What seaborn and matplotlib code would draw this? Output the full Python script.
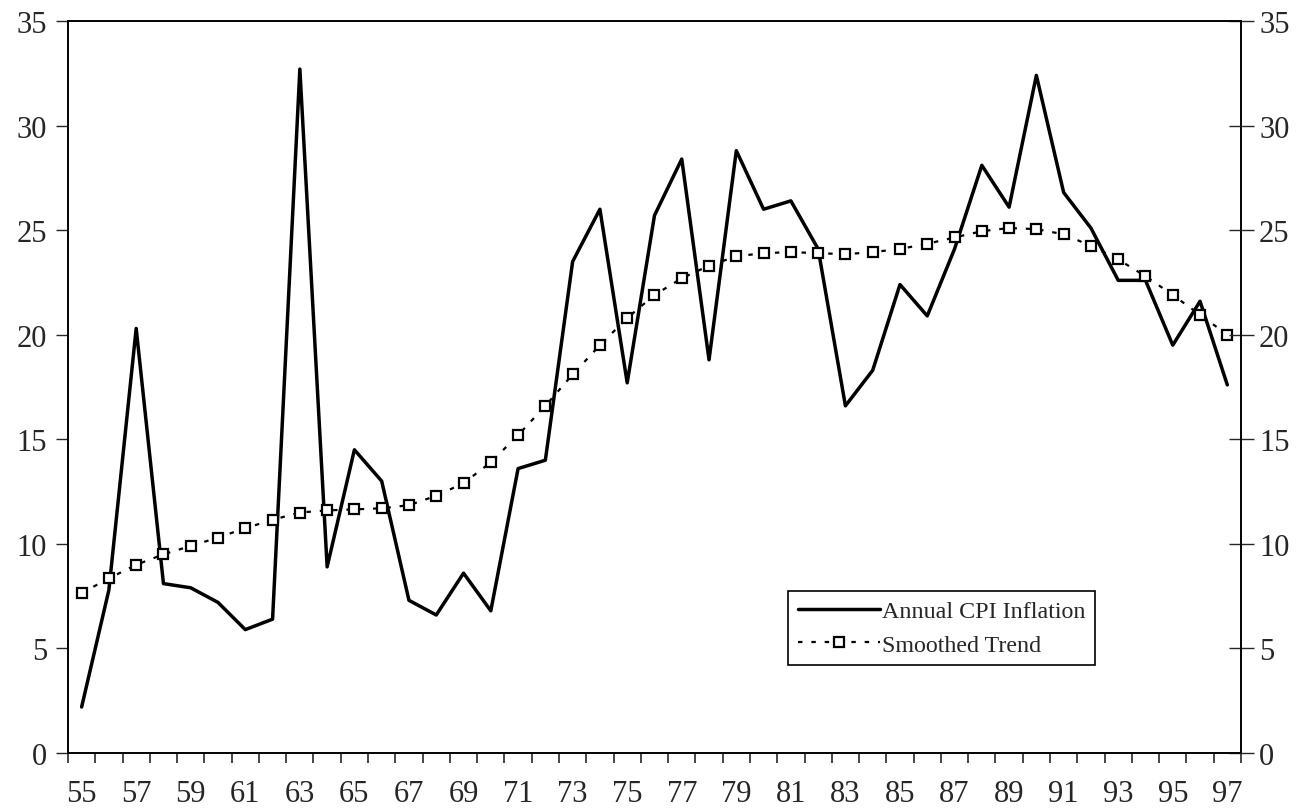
import numpy as np
import pandas as pd
import matplotlib
matplotlib.use('Agg')
import matplotlib.pyplot as plt
import seaborn as sns

# years 1955-1997 (labelled by last two digits)
years = list(range(55, 98))

cpi_inflation = [2.2, 7.8, 20.3, 8.1, 7.9, 7.2, 5.9, 6.4, 32.7, 8.9,
                 14.5, 13.0, 7.3, 6.6, 8.6, 6.8, 13.6, 14.0, 23.5, 26.0,
                 17.7, 25.7, 28.4, 18.8, 28.8, 26.0, 26.4, 24.1, 16.6, 18.3,
                 22.4, 20.9, 24.1, 28.1, 26.1, 32.4, 26.8, 25.1, 22.6, 22.6,
                 19.5, 21.6, 17.6]

smoothed_trend = [7.65, 8.35, 9.0, 9.5, 9.9, 10.3, 10.75, 11.15, 11.5, 11.6,
                  11.65, 11.7, 11.85, 12.3, 12.9, 13.9, 15.2, 16.6, 18.1, 19.5,
                  20.8, 21.9, 22.7, 23.3, 23.75, 23.9, 23.95, 23.9, 23.85, 23.95,
                  24.1, 24.35, 24.65, 24.95, 25.1, 25.05, 24.8, 24.25, 23.6, 22.8,
                  21.9, 20.95, 20.0]

y_ticks = [0, 5, 10, 15, 20, 25, 30, 35]

df = pd.DataFrame({'year': years, 'cpi': cpi_inflation, 'trend': smoothed_trend})

sns.set_style('ticks')
plt.rcParams['font.family'] = ['Liberation Serif', 'DejaVu Serif']

fig = plt.figure(figsize=(13.1, 8.12), dpi=100)
ax = fig.add_axes([0.0519, 0.0714, 0.8954, 0.9015])

sns.lineplot(x='year', y='cpi', data=df, ax=ax, color='black', linewidth=2.5,
             label='Annual CPI Inflation')
sns.lineplot(x='year', y='trend', data=df, ax=ax, color='black', linewidth=1.6,
             linestyle=(0, (2, 4)), marker='s', markersize=7,
             markerfacecolor='white', markeredgecolor='black', markeredgewidth=1.6,
             label='Smoothed Trend')

ax.set_xlim(54.5, 97.5)
ax.set_ylim(0, 35)
ax.set_xlabel('')
ax.set_ylabel('')

# labels at every other year, tick marks between categories
ax.set_xticks(years[::2])
ax.set_xticklabels([str(y) for y in years[::2]], fontsize=22)
ax.set_xticks(np.arange(54.5, 98.0, 1.0), minor=True)
ax.tick_params(axis='x', which='major', length=0, pad=19)
ax.tick_params(axis='x', which='minor', length=7, width=1.2, direction='out')

ax.set_yticks(y_ticks)
ax.set_yticklabels([str(v) for v in y_ticks], fontsize=22)
ax.tick_params(axis='y', length=9, width=1.0, direction='out', pad=6)

ax2 = ax.twinx()
ax2.set_ylim(0, 35)
ax2.set_yticks(y_ticks)
ax2.set_yticklabels([str(v) for v in y_ticks], fontsize=22)
ax2.tick_params(axis='y', length=18, width=1.0, direction='inout', pad=4)

for a in (ax, ax2):
    for s in a.spines.values():
        s.set_linewidth(1.2)
        s.set_color('black')
        s.set_visible(True)

leg = ax.legend(loc='upper left', bbox_to_anchor=(0.614, 0.222), fontsize=17.3,
                frameon=True, fancybox=False, edgecolor='black', framealpha=1,
                handlelength=3.4, handletextpad=0.1, borderpad=0.4,
                labelspacing=0.5, borderaxespad=0)
leg.get_frame().set_linewidth(1.2)

fig.savefig('out.png', dpi=100)
